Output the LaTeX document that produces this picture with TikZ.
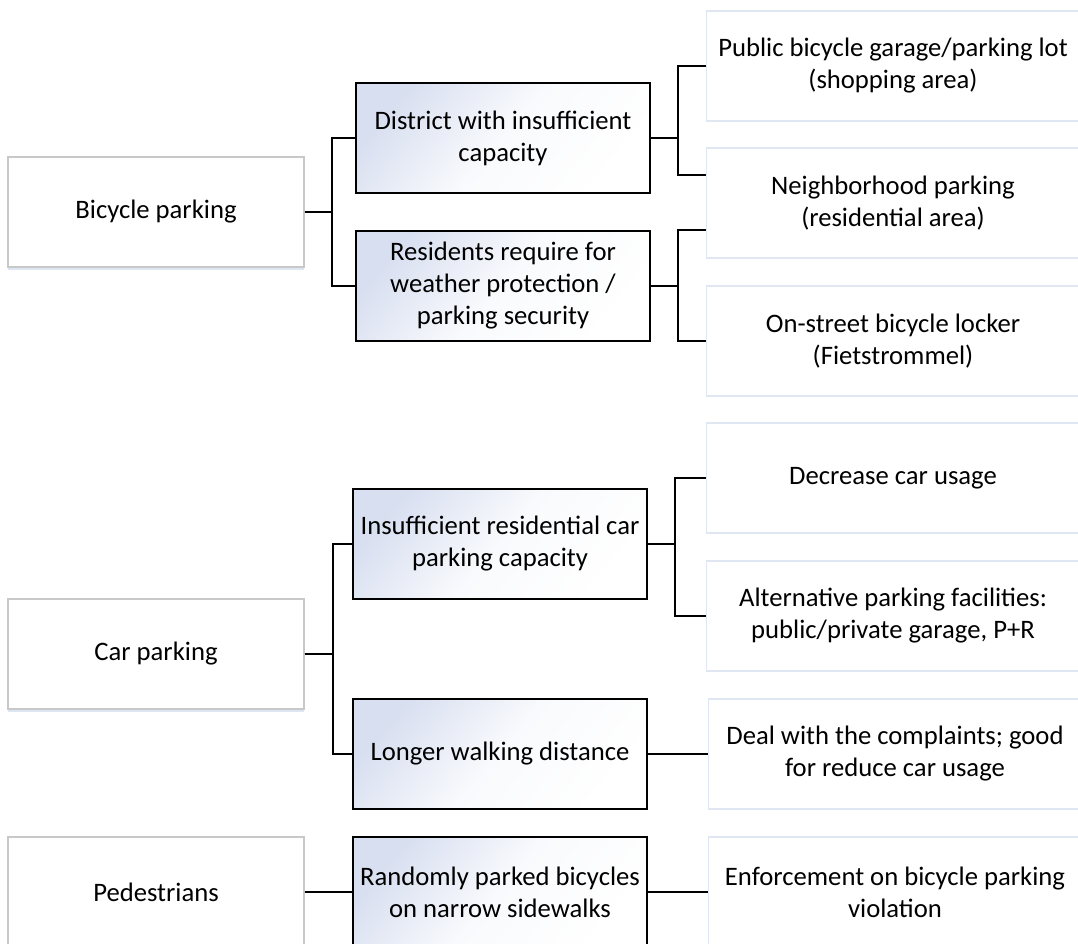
\documentclass[tikz,border=0pt]{standalone}
\usepackage{fontspec}
\setmainfont{Carlito}
\usepackage{tikz}
\usetikzlibrary{shadows}
\usetikzlibrary{calc}

\definecolor{topicline}{RGB}{200,200,200}
\definecolor{topicshadow}{RGB}{185,200,228}
\definecolor{issuefill}{RGB}{216,223,240}
\definecolor{measureline}{RGB}{224,230,242}

\begin{document}
\begin{tikzpicture}[
    x=0.75pt, y=-0.75pt,
    topic/.style={
        rectangle, draw=topicline, fill=white, line width=0.9pt,
        minimum width=222pt, minimum height=82.5pt, inner sep=0pt,
        align=center, font=\fontsize{20}{24}\selectfont,
        drop shadow={shadow xshift=0pt, shadow yshift=-2.5pt,
                     opacity=.45, fill=topicshadow}
    },
    issue/.style={
        rectangle, draw=black, line width=1.5pt,
        top color=issuefill, bottom color=white, middle color=white!85!issuefill,
        shading angle=50,
        minimum width=221pt, minimum height=83pt, inner sep=0pt,
        align=center, font=\fontsize{20}{24}\selectfont
    },
    measure/.style={
        rectangle, draw=measureline, fill=white, line width=1pt,
        minimum width=280pt, minimum height=82.5pt, inner sep=0pt,
        align=center, font=\fontsize{20}{24}\selectfont
    },
    branch/.style={draw=black, line width=1.5pt}
]
\useasboundingbox (0,0) rectangle (1078,944);

% first level
\node[topic] (bike) at (156,212) {Bicycle parking};
\node[topic] (car)  at (156,654) {Car parking};
\node[topic] (ped)  at (156,892) {Pedestrians};

% second level
\node[issue] (district) at (503,138) {District with insufficient\\capacity};
\node[issue] (resid)    at (503,286) {Residents require for\\weather protection /\\parking security};
\node[issue] (insuff)   at (500,544) {Insufficient residential car\\parking capacity};
\node[issue] (longer)   at (500,754) {Longer walking distance};
\node[issue] (random)   at (500,892) {Randomly parked bicycles\\on narrow sidewalks};

% third level
\node[measure] (public)   at (893,66)  {Public bicycle garage/parking lot\\(shopping area)};
\node[measure] (neigh)    at (893,203) {Neighborhood parking\\(residential area)};
\node[measure] (street)   at (893,341) {On-street bicycle locker\\(Fietstrommel)};
\node[measure] (decrease) at (893,478) {Decrease car usage};
\node[measure] (altern)   at (893,616) {Alternative parking facilities:\\public/private garage, P+R};
\node[measure] (deal)     at (895,754) {Deal with the complaints; good\\for reduce car usage};
\node[measure] (enforce)  at (895,892) {Enforcement on bicycle parking\\violation};

\draw[branch] (bike.east) -- ++(27,0) |- (district.west);
\draw[branch] (bike.east) -- ++(27,0) |- (resid.west);

\draw[branch] (district.east) -- ++(27,0) |- (public.west);
\draw[branch] (district.east) -- ++(27,0) |- ($(neigh.west)+(0,-28)$);
\draw[branch] (resid.east) -- ++(27,0) |- ($(neigh.west)+(0,27)$);
\draw[branch] (resid.east) -- ++(27,0) |- (street.west);

\draw[branch] (car.east) -- ++(28,0) |- (insuff.west);
\draw[branch] (car.east) -- ++(28,0) |- (longer.west);

\draw[branch] (insuff.east) -- ++(27,0) |- (decrease.west);
\draw[branch] (insuff.east) -- ++(27,0) |- (altern.west);
\draw[branch] (longer.east) -- (deal.west);

\draw[branch] (ped.east) -- (random.west);
\draw[branch] (random.east) -- (enforce.west);
\end{tikzpicture}
\end{document}
